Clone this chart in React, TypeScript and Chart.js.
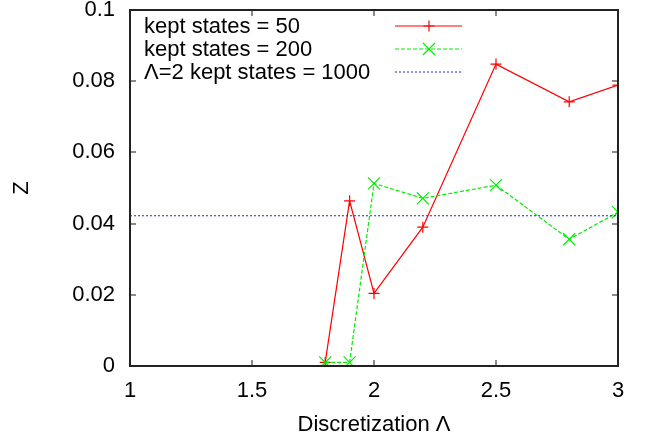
import React, { useEffect, useRef } from "react";
import { Chart, registerables } from "chart.js";

Chart.register(...registerables);

const lambdaValues = [1.8, 1.9, 2.0, 2.2, 2.5, 2.8, 3.0];
const kept50 = [0.001, 0.0464, 0.0204, 0.039, 0.0848, 0.0742, 0.0789];
const kept200 = [0.001, 0.001, 0.0513, 0.0471, 0.0508, 0.0356, 0.0432];
const refLambda = [1, 3];
const ref1000 = [0.0422, 0.0422];
const xTicks = [1, 1.5, 2, 2.5, 3];
const yTicks = [0, 0.02, 0.04, 0.06, 0.08, 0.1];
const seriesLabels = ["kept states = 50", "kept states = 200", "\u039B=2 kept states = 1000"];

const FONT = "'Liberation Sans', Arial, sans-serif";
const FSIZE = 22;
const LEGEND_ROWS = [26, 49, 72];
const STYLES = [
  { c: "#ff0000", d: [] as number[], p: "cross", r: 5.5 },
  { c: "#00ee00", d: [4, 2], p: "crossRot", r: 8.5 },
  { c: "#2020ff", d: [2, 2], p: "", r: 0 },
];

const framePlugin = {
  id: "frameAndLegend",
  afterDraw(chart: any) {
    const { ctx, chartArea, scales } = chart;
    const { left, right, top, bottom } = chartArea;
    ctx.save();
    ctx.setLineDash([]);
    ctx.lineDashOffset = 0;
    ctx.strokeStyle = "#666";
    ctx.lineWidth = 1.5;
    const tl = 6;
    ctx.beginPath();
    xTicks.forEach((v) => {
      const x = Math.round(scales.x.getPixelForValue(v));
      ctx.moveTo(x, bottom);
      ctx.lineTo(x, bottom - tl);
      ctx.moveTo(x, top);
      ctx.lineTo(x, top + tl);
    });
    yTicks.forEach((v) => {
      const y = Math.round(scales.y.getPixelForValue(v));
      ctx.moveTo(left, y);
      ctx.lineTo(left + tl, y);
      ctx.moveTo(right, y);
      ctx.lineTo(right - tl, y);
    });
    ctx.stroke();
    ctx.strokeStyle = "#222";
    ctx.lineWidth = 2;
    ctx.beginPath();
    ctx.rect(Math.round(left), Math.round(top), Math.round(right - left), Math.round(bottom - top));
    ctx.stroke();

    STYLES.forEach((s, i) => {
      const y = LEGEND_ROWS[i];
      ctx.strokeStyle = s.c;
      ctx.lineWidth = 1.2;
      ctx.setLineDash(s.d);
      ctx.beginPath();
      ctx.moveTo(395, y);
      ctx.lineTo(462, y);
      ctx.stroke();
      ctx.setLineDash([]);
      if (s.r > 0) {
        ctx.beginPath();
        if (s.p === "cross") {
          ctx.moveTo(429 - s.r, y);
          ctx.lineTo(429 + s.r, y);
          ctx.moveTo(429, y - s.r);
          ctx.lineTo(429, y + s.r);
        } else {
          const r = s.r * Math.SQRT1_2;
          ctx.moveTo(429 - r, y - r);
          ctx.lineTo(429 + r, y + r);
          ctx.moveTo(429 + r, y - r);
          ctx.lineTo(429 - r, y + r);
        }
        ctx.stroke();
      }
    });

    ctx.font = `${FSIZE}px ${FONT}`;
    ctx.fillStyle = "#000";
    ctx.textAlign = "left";
    ctx.textBaseline = "middle";
    seriesLabels.forEach((t, i) => {
      ctx.fillText(t, 144, LEGEND_ROWS[i] + 1);
    });
    ctx.restore();
  },
};

export default function App() {
  const ref = useRef<HTMLCanvasElement | null>(null);
  useEffect(() => {
    if (!ref.current) return;
    const mk = (i: number, xs: number[], ys: number[]) => ({
      label: seriesLabels[i],
      data: xs.map((x, j) => ({ x, y: ys[j] })),
      borderColor: STYLES[i].c,
      backgroundColor: STYLES[i].c,
      borderWidth: 1.2,
      borderDash: STYLES[i].d,
      pointStyle: STYLES[i].p || "circle",
      pointRadius: STYLES[i].r,
      pointHoverRadius: STYLES[i].r,
      pointBorderWidth: 1.2,
      order: 3 - i,
    });
    const chart = new Chart(ref.current, {
      type: "line",
      data: {
        datasets: [mk(0, lambdaValues, kept50), mk(1, lambdaValues, kept200), mk(2, refLambda, ref1000)],
      },
      options: {
        animation: false,
        responsive: true,
        maintainAspectRatio: false,
        layout: { padding: { top: 10, right: 35, left: 0, bottom: 0 } },
        plugins: { legend: { display: false }, tooltip: { enabled: false } },
        scales: {
          x: {
            type: "linear",
            min: 1,
            max: 3,
            afterFit: (s: any) => {
              s.height = 75;
              s.paddingLeft = 0;
              s.paddingRight = 0;
            },
            afterBuildTicks: (s: any) => {
              s.ticks = xTicks.map((v) => ({ value: v }));
            },
            grid: { display: false, drawTicks: false },
            border: { display: false },
            ticks: { padding: 12, color: "#000", font: { family: FONT, size: FSIZE }, maxRotation: 0, callback: (v: any) => String(v) },
            title: { display: true, text: "Discretization \u039B", color: "#000", font: { family: FONT, size: FSIZE }, padding: { top: 0, bottom: 3 } },
          },
          y: {
            type: "linear",
            min: 0,
            max: 0.1,
            afterFit: (s: any) => {
              s.width = 130;
              s.paddingTop = 0;
              s.paddingBottom = 0;
            },
            afterBuildTicks: (s: any) => {
              s.ticks = yTicks.map((v) => ({ value: v }));
            },
            grid: { display: false, drawTicks: false },
            border: { display: false },
            ticks: { padding: 15, color: "#000", font: { family: FONT, size: FSIZE }, callback: (v: any) => String(Math.round(v * 100) / 100) },
            title: { display: true, text: "Z", color: "#000", font: { family: FONT, size: FSIZE }, padding: { top: 9, bottom: 0 } },
          },
        },
      },
      plugins: [framePlugin],
    } as any);
    return () => chart.destroy();
  }, []);
  return (
    <div style={{ position: "fixed", left: 0, top: 0, width: 653, height: 441, background: "#fff" }}>
      <canvas ref={ref} />
    </div>
  );
}
